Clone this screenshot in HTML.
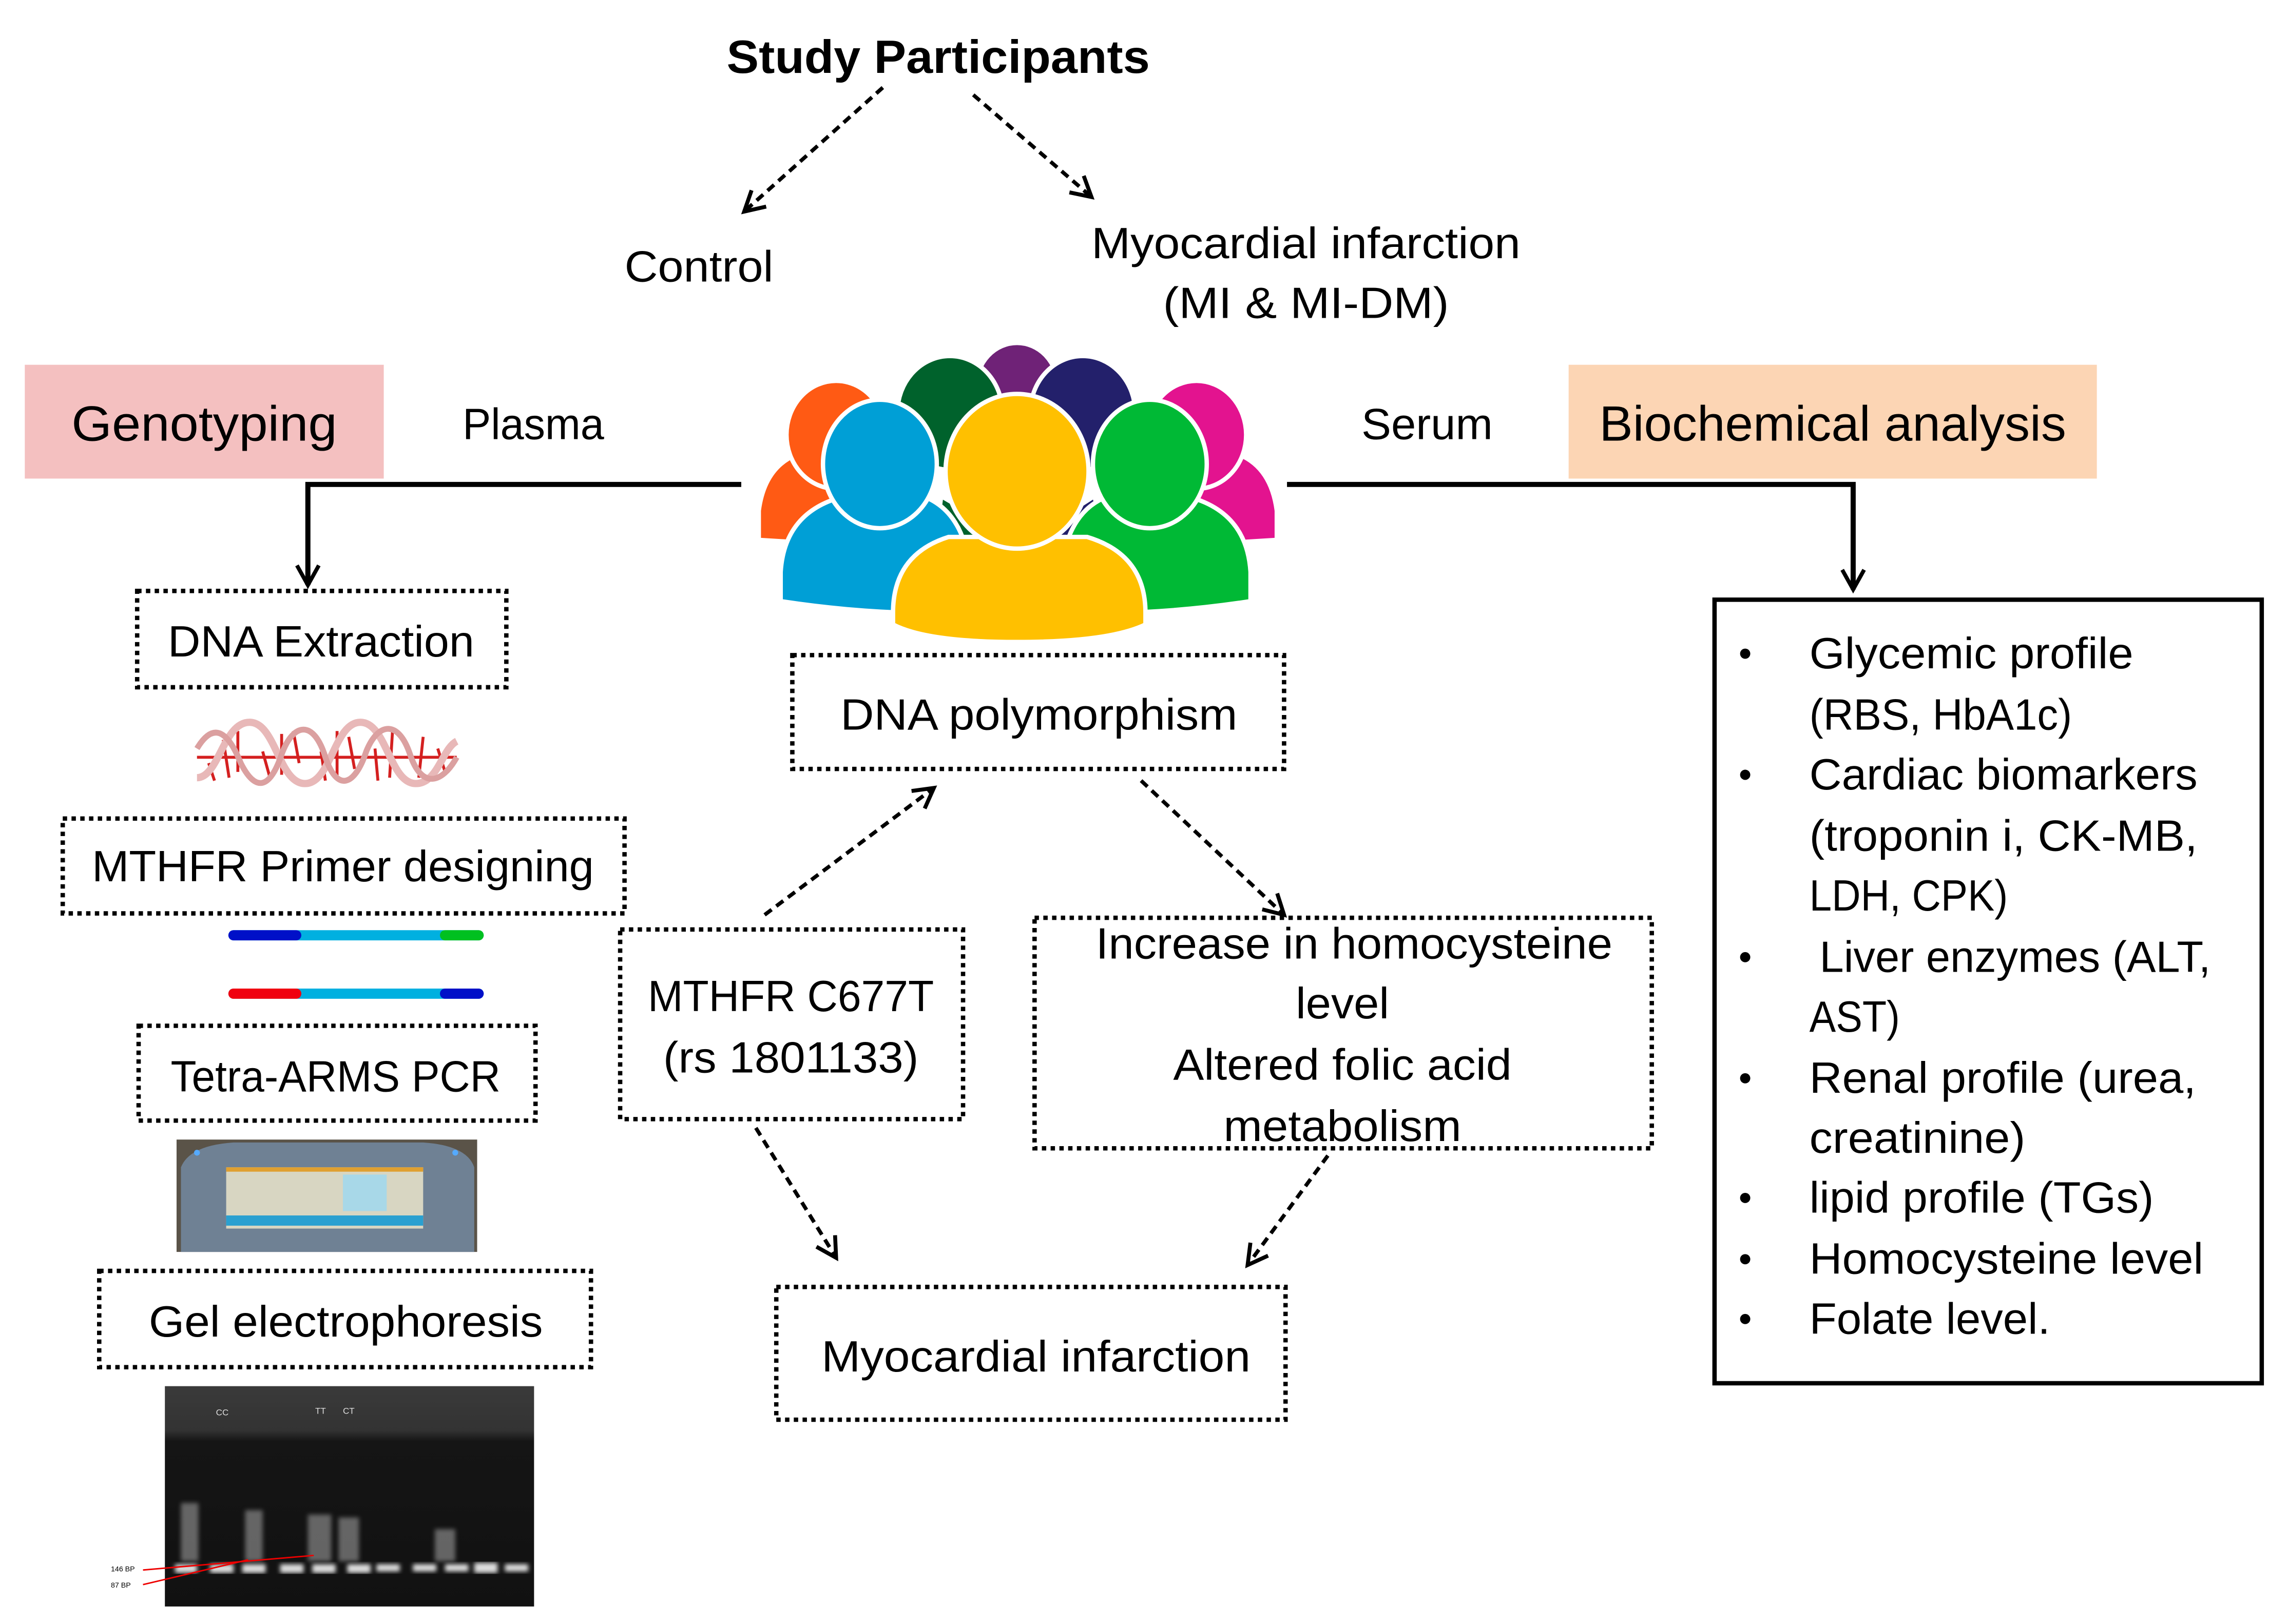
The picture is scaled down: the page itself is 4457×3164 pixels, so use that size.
<!DOCTYPE html>
<html><head><meta charset="utf-8"><style>
html,body{margin:0;padding:0;background:#fff;}
svg{display:block;}
text{font-family:"Liberation Sans",sans-serif;fill:#000;}
</style></head><body>
<svg width="4457" height="3164" viewBox="0 0 1568 1113" preserveAspectRatio="none" xmlns="http://www.w3.org/2000/svg">
<defs>
<marker id="ah2" viewBox="0 0 12 12" refX="10" refY="6" markerWidth="18" markerHeight="18" orient="auto" markerUnits="userSpaceOnUse">
<path d="M1,1 L10,6 L1,11" fill="none" stroke="#000" stroke-width="1.8"/></marker>
<linearGradient id="gelg" x1="0" y1="0" x2="0" y2="1">
<stop offset="0" stop-color="#3a3a3a"/><stop offset="0.2" stop-color="#333"/><stop offset="0.25" stop-color="#151515"/><stop offset="1" stop-color="#111"/></linearGradient>
<filter id="bl"><feGaussianBlur stdDeviation="1.5"/></filter>
</defs>

<text x="643" y="50" font-size="32" font-weight="bold" text-anchor="middle" textLength="290" lengthAdjust="spacingAndGlyphs">Study Participants</text>
<line x1="605" y1="60" x2="510" y2="145" stroke="#000" stroke-width="2.6" stroke-dasharray="6,4" marker-end="url(#ah2)"/>
<line x1="667" y1="65" x2="748" y2="135" stroke="#000" stroke-width="2.6" stroke-dasharray="6,4" marker-end="url(#ah2)"/>
<text x="428" y="193" font-size="30" textLength="102" lengthAdjust="spacingAndGlyphs">Control</text>
<text x="748" y="177" font-size="30" textLength="294" lengthAdjust="spacingAndGlyphs">Myocardial infarction</text>
<text x="895" y="218" font-size="30" text-anchor="middle" textLength="196" lengthAdjust="spacingAndGlyphs">(MI &amp; MI-DM)</text>

<rect x="17" y="250" width="246" height="78" fill="#f4c0c0"/>
<text x="140" y="302" font-size="34" text-anchor="middle" textLength="182" lengthAdjust="spacingAndGlyphs">Genotyping</text>
<text x="317" y="301" font-size="30" textLength="97" lengthAdjust="spacingAndGlyphs">Plasma</text>
<text x="933" y="301" font-size="30" textLength="90" lengthAdjust="spacingAndGlyphs">Serum</text>
<rect x="1075" y="250" width="362" height="78" fill="#fcd5b4"/>
<text x="1256" y="302" font-size="34" text-anchor="middle" textLength="320" lengthAdjust="spacingAndGlyphs">Biochemical analysis</text>

<path d="M508,332 L211,332 L211,401" fill="none" stroke="#000" stroke-width="3.5" marker-end="url(#ah2)"/>
<path d="M882,332 L1270,332 L1270,404" fill="none" stroke="#000" stroke-width="3.5" marker-end="url(#ah2)"/>

<g stroke="#fff" stroke-width="3">
<ellipse cx="697" cy="265" rx="28" ry="30" fill="#6f2277"/>
<ellipse cx="651" cy="283" rx="36" ry="39" fill="#00622c"/>
<ellipse cx="742" cy="283" rx="36" ry="39" fill="#23206b"/>
<path d="M520,370 L520,350 Q525,312 560,308 L590,308 L600,375 Z" fill="#ff5a14"/>
<ellipse cx="573" cy="298" rx="34" ry="37" fill="#ff5a14"/>
<path d="M875,370 L875,350 Q870,312 835,308 L805,308 L795,375 Z" fill="#e3138f"/>
<ellipse cx="820" cy="298" rx="34" ry="37" fill="#e3138f"/>
<path d="M645,340 L700,372 L640,380 Z" fill="#00622c"/>
<path d="M750,340 L700,372 L760,380 Z" fill="#23206b"/>
<path d="M535,408 L535,392 Q538,345 590,338 L625,338 Q660,345 665,392 L665,420 Q600,422 535,412 Z" fill="#009fd6"/>
<ellipse cx="603" cy="318" rx="39" ry="44" fill="#009fd6"/>
<path d="M857,408 L857,392 Q854,345 802,338 L767,338 Q732,345 727,392 L727,420 Q792,422 857,412 Z" fill="#00b935"/>
<ellipse cx="788" cy="318" rx="39" ry="44" fill="#00b935"/>
<path d="M612,428 L612,420 Q612,380 650,368 L745,368 Q785,380 785,420 L785,428 Q760,440 697,440 Q635,440 612,428 Z" fill="#ffc000"/>
<ellipse cx="697" cy="323" rx="49" ry="53" fill="#ffc000"/>
</g>

<rect x="94" y="405" width="253" height="66" fill="none" stroke="#000" stroke-width="3" stroke-dasharray="3,3"/>
<text x="220" y="450" font-size="30" text-anchor="middle" textLength="210" lengthAdjust="spacingAndGlyphs">DNA Extraction</text>

<g transform="translate(135,493)">
<g stroke="#d42020" stroke-width="2">
<line x1="8" y1="30" x2="12" y2="42"/><line x1="18" y1="14" x2="22" y2="40"/><line x1="28" y1="8" x2="28" y2="36"/>
<line x1="45" y1="22" x2="50" y2="40"/><line x1="58" y1="10" x2="58" y2="38"/><line x1="66" y1="8" x2="70" y2="30"/>
<line x1="85" y1="22" x2="88" y2="42"/><line x1="96" y1="8" x2="96" y2="40"/><line x1="104" y1="12" x2="108" y2="34"/>
<line x1="122" y1="20" x2="124" y2="42"/><line x1="134" y1="8" x2="132" y2="40"/>
<line x1="155" y1="12" x2="152" y2="40"/><line x1="165" y1="20" x2="170" y2="36"/>
<line x1="0" y1="26" x2="178" y2="26"/>
</g>
<path d="M0,40 C15,40 18,2 36,2 C54,2 56,44 74,44 C92,44 94,2 112,2 C130,2 132,44 150,44 C165,44 168,20 178,15" fill="none" stroke="#e8b8b8" stroke-width="5"/>
<path d="M0,20 C12,0 22,10 30,30 C40,50 50,48 58,24 C66,2 80,0 88,26 C96,50 108,46 116,22 C124,2 138,0 146,24 C154,48 168,44 178,26" fill="none" stroke="#dba0a0" stroke-width="4"/>
</g>

<rect x="43" y="561" width="385" height="65" fill="none" stroke="#000" stroke-width="3" stroke-dasharray="3,3"/>
<text x="235" y="604" font-size="30" text-anchor="middle" textLength="344" lengthAdjust="spacingAndGlyphs">MTHFR Primer designing</text>

<g stroke-width="7" stroke-linecap="round">
<line x1="160" y1="641" x2="328" y2="641" stroke="#00b0e0"/>
<line x1="160" y1="641" x2="203" y2="641" stroke="#0010c8"/>
<line x1="305" y1="641" x2="328" y2="641" stroke="#00c020"/>
<line x1="160" y1="681" x2="328" y2="681" stroke="#00b0e0"/>
<line x1="160" y1="681" x2="203" y2="681" stroke="#f00010"/>
<line x1="305" y1="681" x2="328" y2="681" stroke="#0010c8"/>
</g>

<rect x="95" y="703" width="272" height="65" fill="none" stroke="#000" stroke-width="3" stroke-dasharray="3,3"/>
<text x="230" y="748" font-size="30" text-anchor="middle" textLength="226" lengthAdjust="spacingAndGlyphs">Tetra-ARMS PCR</text>

<rect x="121" y="781" width="206" height="77" fill="#5a5348"/>
<path d="M124,858 L124,800 Q130,785 160,783 L290,783 Q320,785 325,800 L325,858 Z" fill="#6f8194"/>
<rect x="155" y="800" width="135" height="42" fill="#d8d6c2"/>
<rect x="155" y="800" width="135" height="3" fill="#e0a030"/>
<rect x="235" y="805" width="30" height="25" fill="#a8d8e8"/>
<rect x="155" y="833" width="135" height="7" fill="#2aa0d0"/>
<circle cx="135" cy="790" r="2" fill="#5af"/><circle cx="312" cy="790" r="2" fill="#5af"/>

<rect x="68" y="871" width="337" height="66" fill="none" stroke="#000" stroke-width="3" stroke-dasharray="3,3"/>
<text x="237" y="916" font-size="30" text-anchor="middle" textLength="270" lengthAdjust="spacingAndGlyphs">Gel electrophoresis</text>

<rect x="113" y="950" width="253" height="151" fill="url(#gelg)"/>
<g fill="#ddd" filter="url(#bl)">
<rect x="120" y="1072" width="15" height="6"/><rect x="144" y="1072" width="16" height="6"/><rect x="166" y="1072" width="16" height="6"/><rect x="192" y="1072" width="16" height="6"/>
<rect x="214" y="1072" width="16" height="6"/><rect x="238" y="1072" width="16" height="6"/><rect x="258" y="1072" width="16" height="5"/><rect x="283" y="1072" width="16" height="5"/>
<rect x="305" y="1072" width="16" height="5"/><rect x="325" y="1071" width="16" height="7"/><rect x="346" y="1072" width="16" height="5"/>
</g>
<g fill="#888" opacity="0.7" filter="url(#bl)">
<rect x="124" y="1030" width="12" height="40"/><rect x="168" y="1035" width="12" height="35"/><rect x="211" y="1038" width="16" height="32"/><rect x="232" y="1040" width="14" height="30"/><rect x="298" y="1048" width="14" height="22"/>
</g>
<text x="148" y="970" font-size="6" style="fill:#ddd">CC</text>
<text x="216" y="969" font-size="6" style="fill:#ddd">TT</text>
<text x="235" y="969" font-size="6" style="fill:#ddd">CT</text>
<line x1="98" y1="1076" x2="215" y2="1066" stroke="#e00" stroke-width="1"/>
<line x1="98" y1="1086" x2="170" y2="1069" stroke="#e00" stroke-width="1"/>
<text x="76" y="1077" font-size="5">146 BP</text>
<text x="76" y="1088" font-size="5">87 BP</text>

<rect x="543" y="449" width="337" height="78" fill="none" stroke="#000" stroke-width="3" stroke-dasharray="3,3"/>
<text x="712" y="500" font-size="30" text-anchor="middle" textLength="272" lengthAdjust="spacingAndGlyphs">DNA polymorphism</text>

<line x1="524" y1="627" x2="640" y2="540" stroke="#000" stroke-width="2.6" stroke-dasharray="6,4" marker-end="url(#ah2)"/>
<line x1="782" y1="535" x2="880" y2="627" stroke="#000" stroke-width="2.6" stroke-dasharray="6,4" marker-end="url(#ah2)"/>

<rect x="425" y="637" width="235" height="130" fill="none" stroke="#000" stroke-width="3" stroke-dasharray="3,3"/>
<text x="542" y="693" font-size="30" text-anchor="middle" textLength="196" lengthAdjust="spacingAndGlyphs">MTHFR C677T</text>
<text x="542" y="735" font-size="30" text-anchor="middle" textLength="175" lengthAdjust="spacingAndGlyphs">(rs 1801133)</text>

<rect x="709" y="629" width="423" height="158" fill="none" stroke="#000" stroke-width="3" stroke-dasharray="3,3"/>
<text x="928" y="657" font-size="30" text-anchor="middle" textLength="354" lengthAdjust="spacingAndGlyphs">Increase in homocysteine</text>
<text x="920" y="698" font-size="30" text-anchor="middle" textLength="64" lengthAdjust="spacingAndGlyphs">level</text>
<text x="920" y="740" font-size="30" text-anchor="middle" textLength="232" lengthAdjust="spacingAndGlyphs">Altered folic acid</text>
<text x="920" y="782" font-size="30" text-anchor="middle" textLength="163" lengthAdjust="spacingAndGlyphs">metabolism</text>

<line x1="518" y1="773" x2="573" y2="862" stroke="#000" stroke-width="2.6" stroke-dasharray="6,4" marker-end="url(#ah2)"/>
<line x1="910" y1="792" x2="855" y2="867" stroke="#000" stroke-width="2.6" stroke-dasharray="6,4" marker-end="url(#ah2)"/>

<rect x="532" y="882" width="349" height="91" fill="none" stroke="#000" stroke-width="3" stroke-dasharray="3,3"/>
<text x="710" y="940" font-size="30" text-anchor="middle" textLength="294" lengthAdjust="spacingAndGlyphs">Myocardial infarction</text>

<rect x="1175" y="411" width="375" height="537" fill="none" stroke="#000" stroke-width="3"/>
<g font-size="30">
<text x="1240" y="458" textLength="222" lengthAdjust="spacingAndGlyphs">Glycemic profile</text>
<text x="1240" y="500" textLength="180" lengthAdjust="spacingAndGlyphs">(RBS, HbA1c)</text>
<text x="1240" y="541" textLength="266" lengthAdjust="spacingAndGlyphs">Cardiac biomarkers</text>
<text x="1240" y="583" textLength="266" lengthAdjust="spacingAndGlyphs">(troponin i, CK-MB,</text>
<text x="1240" y="624" textLength="136" lengthAdjust="spacingAndGlyphs">LDH, CPK)</text>
<text x="1247" y="666" textLength="268" lengthAdjust="spacingAndGlyphs">Liver enzymes (ALT,</text>
<text x="1240" y="707" textLength="62" lengthAdjust="spacingAndGlyphs">AST)</text>
<text x="1240" y="749" textLength="265" lengthAdjust="spacingAndGlyphs">Renal profile (urea,</text>
<text x="1240" y="790" textLength="148" lengthAdjust="spacingAndGlyphs">creatinine)</text>
<text x="1240" y="831" textLength="236" lengthAdjust="spacingAndGlyphs">lipid profile (TGs)</text>
<text x="1240" y="873" textLength="270" lengthAdjust="spacingAndGlyphs">Homocysteine level</text>
<text x="1240" y="914" textLength="165" lengthAdjust="spacingAndGlyphs">Folate level.</text>
</g>
<g fill="#000">
<circle cx="1196" cy="448" r="3.5"/><circle cx="1196" cy="531" r="3.5"/><circle cx="1196" cy="656" r="3.5"/>
<circle cx="1196" cy="739" r="3.5"/><circle cx="1196" cy="821" r="3.5"/><circle cx="1196" cy="863" r="3.5"/><circle cx="1196" cy="904" r="3.5"/>
</g>
</svg>
</body></html>
